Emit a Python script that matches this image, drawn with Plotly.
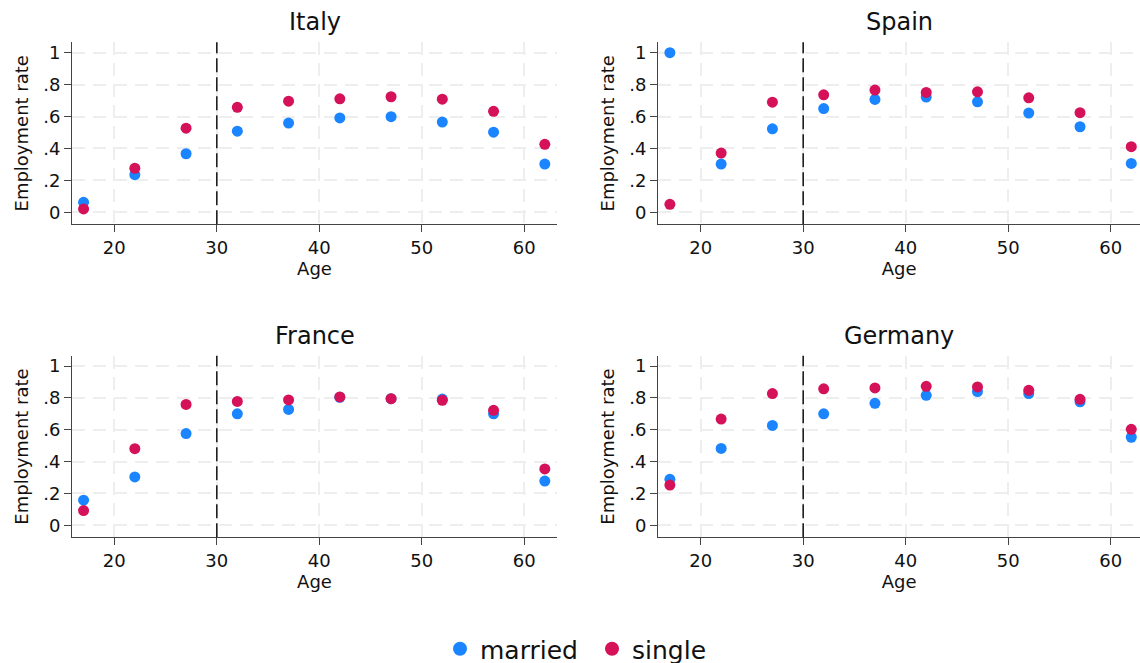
import plotly.graph_objects as go
from plotly.subplots import make_subplots

# Age-group midpoints
ages = [17, 22, 27, 32, 37, 42, 47, 52, 57, 62]

countries = ["Italy", "Spain", "France", "Germany"]

# Employment rate by age group and marital status
italy_married = [0.063, 0.236, 0.367, 0.508, 0.559, 0.591, 0.599, 0.565, 0.502, 0.302]
italy_single = [0.021, 0.276, 0.527, 0.658, 0.696, 0.711, 0.724, 0.709, 0.633, 0.426]

spain_married = [1.0, 0.302, 0.523, 0.650, 0.707, 0.722, 0.692, 0.622, 0.536, 0.306]
spain_single = [0.050, 0.371, 0.690, 0.736, 0.766, 0.751, 0.755, 0.717, 0.624, 0.411]

france_married = [0.158, 0.304, 0.576, 0.700, 0.728, 0.804, 0.795, 0.793, 0.700, 0.278]
france_single = [0.093, 0.481, 0.759, 0.778, 0.787, 0.806, 0.795, 0.785, 0.722, 0.354]

germany_married = [0.289, 0.483, 0.627, 0.700, 0.766, 0.816, 0.840, 0.827, 0.776, 0.553]
germany_single = [0.253, 0.667, 0.827, 0.857, 0.863, 0.873, 0.869, 0.848, 0.791, 0.603]

married = [italy_married, spain_married, france_married, germany_married]
single = [italy_single, spain_single, france_single, germany_single]

x_ticks = [20, 30, 40, 50, 60]
y_ticks = [0, 0.2, 0.4, 0.6, 0.8, 1]
y_tick_labels = ["0", ".2", ".4", ".6", ".8", "1"]

cutoff_age = 30

BLUE = "#1A85FF"
RED = "#D41159"
FONT = "DejaVu Sans"
AXIS = "#444444"
GRID = "#eeeeee"
TEXT = "#111111"

fig = make_subplots(rows=2, cols=2)

positions = [(1, 1), (1, 2), (2, 1), (2, 2)]
for i, (r, c) in enumerate(positions):
    fig.add_trace(go.Scatter(x=ages, y=married[i], mode="markers", name="married",
                             legendgroup="married", showlegend=False,
                             marker=dict(color=BLUE, size=11)), row=r, col=c)
    fig.add_trace(go.Scatter(x=ages, y=single[i], mode="markers", name="single",
                             legendgroup="single", showlegend=False,
                             marker=dict(color=RED, size=11)), row=r, col=c)

# legend entries with slightly larger symbols
fig.add_trace(go.Scatter(x=[None], y=[None], mode="markers", name="married",
                         legendgroup="married", marker=dict(color=BLUE, size=14)))
fig.add_trace(go.Scatter(x=[None], y=[None], mode="markers", name="single",
                         legendgroup="single", marker=dict(color=RED, size=14)))

W, H = 1140, 663
x_domains = {1: [72.3 / W, 556.7 / W], 2: [658.3 / W, 1.0]}
y_domains = {1: [1 - 224.3 / H, 1 - 42.3 / H], 2: [1 - 537.3 / H, 1 - 355.7 / H]}
x_ranges = {1: [15.9, 63.16], 2: [15.87, 62.85]}

axis_common = dict(
    showline=True, linecolor=AXIS, linewidth=1.3, mirror=False,
    ticks="outside", ticklen=7, tickwidth=1.3, tickcolor=AXIS,
    showgrid=True, gridcolor=GRID, gridwidth=2, griddash="13px,8px",
    zeroline=False, tickfont=dict(family=FONT, size=18, color=TEXT),
)

for i, (r, c) in enumerate(positions):
    fig.update_xaxes(domain=x_domains[c], range=x_ranges[c], tickvals=x_ticks,
                     title=dict(text="Age", font=dict(family=FONT, size=18, color=TEXT), standoff=4),
                     row=r, col=c, **axis_common)
    fig.update_yaxes(domain=y_domains[r], range=[-0.075, 1.065], tickvals=y_ticks,
                     ticktext=y_tick_labels,
                     title=dict(text="Employment rate", font=dict(family=FONT, size=18, color=TEXT), standoff=10),
                     row=r, col=c, **axis_common)
    xref = "x" if i == 0 else f"x{i + 1}"
    yref = "y" if i == 0 else f"y{i + 1}"
    # vertical reference line at age 30
    fig.add_shape(type="line", x0=cutoff_age, x1=cutoff_age, y0=0, y1=1,
                  xref=xref, yref=f"{yref} domain",
                  line=dict(color=TEXT, width=1.5, dash="14px,5px"))
    # panel title
    fig.add_annotation(text=countries[i], x=sum(x_domains[c]) / 2, y=y_domains[r][1],
                       xref="paper", yref="paper", xanchor="center", yanchor="bottom",
                       yshift=4, showarrow=False,
                       font=dict(family=FONT, size=24, color=TEXT))

fig.update_layout(
    width=W, height=H,
    margin=dict(l=0, r=0, t=0, b=0, autoexpand=False),
    paper_bgcolor="white", plot_bgcolor="white",
    font=dict(family=FONT, color=TEXT),
    legend=dict(orientation="h", x=440 / W, xanchor="left", y=1 - 649 / H, yanchor="middle",
                font=dict(family=FONT, size=25, color=TEXT), itemwidth=30,
                entrywidth=107, entrywidthmode="pixels",
                bgcolor="rgba(0,0,0,0)"),
)

fig.write_html("out.html")
